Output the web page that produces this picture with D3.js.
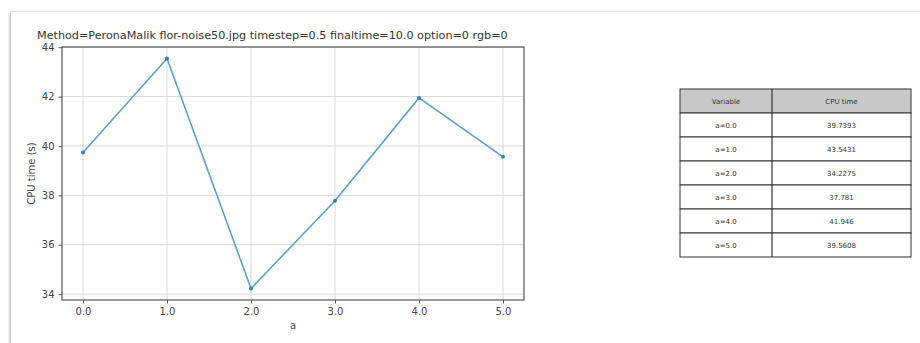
<!DOCTYPE html>
<html>
<head>
<meta charset="utf-8">
<script src="https://cdn.jsdelivr.net/npm/d3@7"></script>
<style>
  body { margin: 0; background: #fff; }
  text { font-family: "DejaVu Sans", sans-serif; }
</style>
</head>
<body>
<div id="chart"></div>
<script>
var svgWidth = 920;
var svgHeight = 343;

// data
var aValues = [0, 1, 2, 3, 4, 5];
var cpuTimes = [39.7393, 43.5431, 34.2275, 37.781, 41.946, 39.5608];
var cpuLabels = ["39.7393", "43.5431", "34.2275", "37.781", "41.946", "39.5608"];
var yTicks = [34, 36, 38, 40, 42, 44];
var tableHeader = ["Variable", "CPU time"];

var titleText = "Method=PeronaMalik flor-noise50.jpg timestep=0.5 finaltime=10.0 option=0 rgb=0";

var plot = { left: 62, right: 524, top: 47, bottom: 300 };

var svg = d3.select("#chart")
  .append("svg")
  .attr("width", svgWidth)
  .attr("height", svgHeight);

// card with a soft shadow on the left / top
var defs = svg.append("defs");
var f = defs.append("filter").attr("id", "shadow")
  .attr("x", "-5%").attr("y", "-5%").attr("width", "110%").attr("height", "110%");
f.append("feGaussianBlur").attr("in", "SourceAlpha").attr("stdDeviation", 1.5);
f.append("feOffset").attr("dx", -1).attr("dy", 0).attr("result", "b");
f.append("feComponentTransfer").append("feFuncA").attr("type", "linear").attr("slope", 0.35);
var m = f.append("feMerge");
m.append("feMergeNode");
m.append("feMergeNode").attr("in", "SourceGraphic");

svg.append("rect")
  .attr("x", 11).attr("y", 12)
  .attr("width", 930).attr("height", 360)
  .attr("fill", "#fff")
  .attr("filter", "url(#shadow)");

var x = d3.scaleLinear()
  .domain([-0.25, 5.25])
  .range([plot.left, plot.right]);

var yMin = d3.min(cpuTimes), yMax = d3.max(cpuTimes);
var pad = (yMax - yMin) * 0.05;
var y = d3.scaleLinear()
  .domain([yMin - pad, yMax + pad])
  .range([plot.bottom, plot.top]);

var chart = svg.append("g");

// grid
chart.append("g")
  .selectAll("line.vx")
  .data(aValues)
  .enter()
  .append("line")
  .attr("x1", d => x(d)).attr("x2", d => x(d))
  .attr("y1", plot.top).attr("y2", plot.bottom)
  .attr("stroke", "#d8d8d8").attr("stroke-width", 1);

chart.append("g")
  .selectAll("line.hy")
  .data(yTicks)
  .enter()
  .append("line")
  .attr("x1", plot.left).attr("x2", plot.right)
  .attr("y1", d => y(d)).attr("y2", d => y(d))
  .attr("stroke", "#d8d8d8").attr("stroke-width", 1);

// axes
var bottomAxis = d3.axisBottom(x).tickValues(aValues).tickFormat(d3.format(".1f")).tickSize(3.5).tickPadding(4);
var leftAxis = d3.axisLeft(y).tickValues(yTicks).tickSize(3.5).tickPadding(4);

var gx = chart.append("g")
  .attr("transform", `translate(0, ${plot.bottom})`)
  .call(bottomAxis);
var gy = chart.append("g")
  .attr("transform", `translate(${plot.left}, 0)`)
  .call(leftAxis);

[gx, gy].forEach(function(g) {
  g.select(".domain").remove();
  g.selectAll("text").style("font-size", "10px").attr("fill", "#444");
  g.selectAll("line").attr("stroke", "#555");
});

// frame
chart.append("rect")
  .attr("x", plot.left).attr("y", plot.top)
  .attr("width", plot.right - plot.left)
  .attr("height", plot.bottom - plot.top)
  .attr("fill", "none")
  .attr("stroke", "#555").attr("stroke-width", 1.2);

// line
var line = d3.line()
  .x((d, i) => x(aValues[i]))
  .y(d => y(d));

chart.append("path")
  .datum(cpuTimes)
  .attr("d", line)
  .attr("fill", "none")
  .attr("stroke", "#5a9fd0")
  .attr("stroke-width", 1.6);

chart.selectAll("circle")
  .data(cpuTimes)
  .enter()
  .append("circle")
  .attr("cx", (d, i) => x(aValues[i]))
  .attr("cy", d => y(d))
  .attr("r", 2)
  .attr("fill", "#2f7fb8");

// labels
svg.append("text")
  .attr("x", 37).attr("y", 39)
  .style("font-size", "11.2px")
  .attr("fill", "#333")
  .text(titleText);

svg.append("text")
  .attr("x", (plot.left + plot.right) / 2)
  .attr("y", 329)
  .attr("text-anchor", "middle")
  .style("font-size", "10px")
  .attr("fill", "#444")
  .text("a");

svg.append("text")
  .attr("transform", `translate(35, ${(plot.top + plot.bottom) / 2}) rotate(-90)`)
  .attr("text-anchor", "middle")
  .style("font-size", "10px")
  .attr("fill", "#444")
  .text("CPU time (s)");

// table
var tbl = { left: 680, mid: 772, right: 911, top: 89, rowH: 24 };
var rows = [tableHeader].concat(aValues.map((a, i) => ["a=" + a.toFixed(1), cpuLabels[i]]));

var tg = svg.append("g");
tg.selectAll("rect.row")
  .data(rows)
  .enter()
  .append("rect")
  .attr("x", tbl.left)
  .attr("y", (d, i) => tbl.top + i * tbl.rowH)
  .attr("width", tbl.right - tbl.left)
  .attr("height", tbl.rowH)
  .attr("fill", (d, i) => i === 0 ? "#c8c8c8" : "#fff")
  .attr("stroke", "#333").attr("stroke-width", 1);

tg.append("line")
  .attr("x1", tbl.mid).attr("x2", tbl.mid)
  .attr("y1", tbl.top).attr("y2", tbl.top + rows.length * tbl.rowH)
  .attr("stroke", "#333").attr("stroke-width", 1.2);

rows.forEach(function(r, i) {
  tg.append("text")
    .attr("x", (tbl.left + tbl.mid) / 2)
    .attr("y", tbl.top + i * tbl.rowH + tbl.rowH / 2 + 2.5)
    .attr("text-anchor", "middle")
    .style("font-size", "7px")
    .attr("fill", "#333")
    .text(r[0]);
  tg.append("text")
    .attr("x", (tbl.mid + tbl.right) / 2)
    .attr("y", tbl.top + i * tbl.rowH + tbl.rowH / 2 + 2.5)
    .attr("text-anchor", "middle")
    .style("font-size", "7px")
    .attr("fill", "#333")
    .text(r[1]);
});
</script>
</body>
</html>
